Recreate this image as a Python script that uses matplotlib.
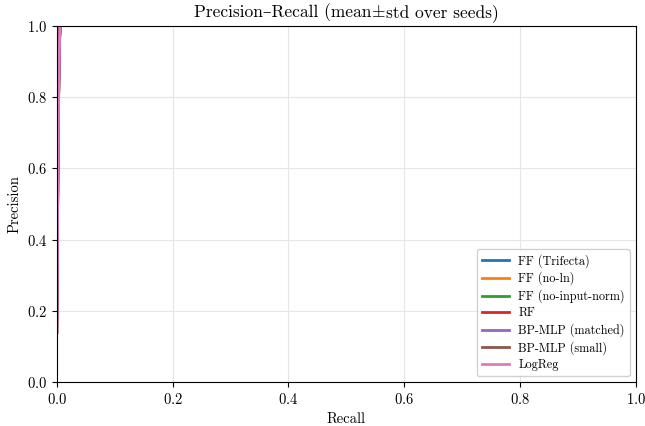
import matplotlib
matplotlib.use("Agg")
import matplotlib.pyplot as plt
import numpy as np
from matplotlib.offsetbox import AnchoredOffsetbox, HPacker, TextArea

plt.rcParams["font.family"] = ["cmr10", "DejaVu Serif"]
plt.rcParams["mathtext.fontset"] = "cm"
plt.rcParams["axes.formatter.use_mathtext"] = True
plt.rcParams["axes.unicode_minus"] = False

# mean PR curves (recall barely leaves zero for every model)
MODELS = ["FF (Trifecta)", "FF (no-ln)", "FF (no-input-norm)", "RF",
          "BP-MLP (matched)", "BP-MLP (small)", "LogReg"]
COLORS = ["#1f77b4", "#ff7f0e", "#2ca02c", "#d62728", "#9467bd", "#8c564b", "#e377c2"]
RECALL = [0.0, 0.0005, 0.001, 0.002, 0.003, 0.004, 0.005, 0.006]
PRECISION = [0.14, 0.25, 0.40, 0.60, 0.78, 0.90, 0.97, 1.0]
PREC_STD = [0.005, 0.01, 0.01, 0.01, 0.01, 0.01, 0.005, 0.0]
TITLE_PARTS = ["Precision\u2013Recall (mean", "$\\pm$", "std over seeds)"]

fig, ax = plt.subplots(figsize=(6.45, 4.26), dpi=100)
rec = np.array(RECALL)
prec = np.array(PRECISION)
std = np.array(PREC_STD)
for name, col in zip(MODELS, COLORS):
    ax.plot(rec, prec, color=col, linewidth=2.0, label=name)
    ax.fill_between(rec, prec - std, np.minimum(prec + std, 1.0), color=col, alpha=0.15, linewidth=0)

ax.set_xlim(0, 1)
ax.set_ylim(0, 1)
ax.set_xlabel("Recall", fontsize=10.5)
ax.set_ylabel("Precision", fontsize=10.5)
ax.grid(True, color="#e6e6e6", linewidth=0.8)
ax.set_axisbelow(True)
ax.tick_params(labelsize=10.5)
ax.legend(loc="lower right", fontsize=8.8, framealpha=0.9, labelspacing=0.33,
          handlelength=2.2)

# title pieced together so the en dash and the plus-minus both render in CM
parts = [TextArea(t, textprops=dict(fontsize=12.5)) for t in TITLE_PARTS]
title_box = HPacker(children=parts, align="baseline", pad=0, sep=0)
anchored = AnchoredOffsetbox(loc="lower center", child=title_box, pad=0, borderpad=0,
                             frameon=False, bbox_to_anchor=(0.5, 1.012),
                             bbox_transform=ax.transAxes)
ax.add_artist(anchored)

fig.subplots_adjust(left=0.088, right=0.986, top=0.939, bottom=0.103)
fig.savefig("out.png", dpi=100)
